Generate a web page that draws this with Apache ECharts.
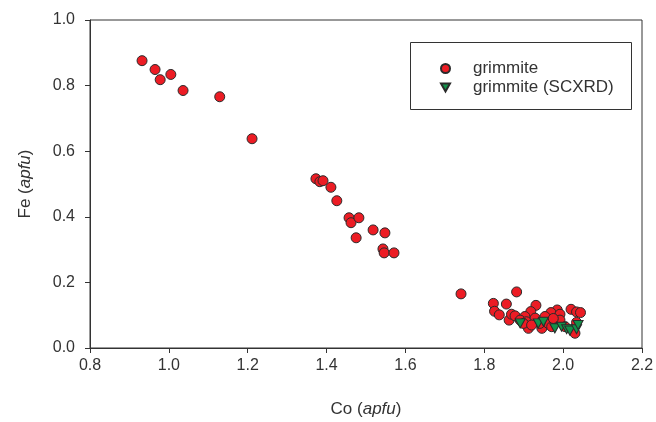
<!DOCTYPE html>
<html>
<head>
<meta charset="utf-8">
<script src="https://cdn.jsdelivr.net/npm/echarts@6/dist/echarts.min.js"></script>
<style>
	html, body { margin:0; padding:0; background:#fff; }
	#main { width:656px; height:422px; }
</style>
</head>
<body>
<div id="main"></div>
<script>
	// grimmite, microprobe (Co, Fe apfu)
	var grimCo = [0.932,0.965,0.978,1.005,1.036,1.129,1.211,1.373,1.383,1.391,1.411,1.426,1.457,1.462,1.482,1.475,1.518,1.548,1.543,1.546,1.571,1.741,
		1.882,1.823,1.856,1.826,1.838,1.931,2.020,2.034,2.044,1.985,1.969,1.992,1.863,1.869,1.878,1.912,1.946,2.034,2.030,
		1.918,1.903,1.891,1.929,1.954,1.962,1.992,2.005,1.941,1.907,1.971,1.899,1.920,1.975];
	var grimFe = [0.876,0.849,0.818,0.834,0.785,0.766,0.638,0.516,0.507,0.510,0.490,0.449,0.397,0.382,0.397,0.336,0.360,0.351,0.302,0.290,0.290,0.165,
		0.171,0.136,0.134,0.112,0.101,0.130,0.118,0.110,0.108,0.116,0.108,0.103,0.085,0.103,0.098,0.060,0.060,0.078,0.045,
		0.111,0.096,0.085,0.091,0.096,0.075,0.085,0.065,0.075,0.080,0.065,0.075,0.070,0.090];

	// grimmite, single crystal XRD
	var scxrdCo = [1.891,1.937,1.950,1.979,1.996,2.009,2.017,2.034,2.038];
	var scxrdFe = [0.075,0.075,0.080,0.060,0.065,0.057,0.053,0.057,0.070];

	var xTicks = ['0.8','1.0','1.2','1.4','1.6','1.8','2.0','2.2'];
	var yTicks = ['0.0','0.2','0.4','0.6','0.8','1.0'];

	var seriesNames = ['grimmite', 'grimmite (SCXRD)'];

	var pairs = function(xs, ys){
		var out = [];
		for(var i = 0, j = xs.length; i < j; i++){
			out.push([xs[i], ys[i]]);
		}
		return out;
	}

	var axisColor = '#333';
	var font = 'Liberation Sans, Arial, sans-serif';
	var downTri = 'path://M0,0 L10,0 L5,9 Z';

	var chart = echarts.init(document.getElementById('main'));
	chart.setOption({
		animation: false,
		textStyle: { fontFamily: font },
		grid: {
			left: 90, right: 14, top: 20, bottom: 74,
			outerBoundsMode: 'none',
			containLabel: false,
			show: true, borderColor: axisColor, borderWidth: 1
		},
		xAxis: {
			type: 'value',
			min: 0.8, max: 2.2, interval: 0.2,
			splitLine: { show: false },
			axisLine: { lineStyle: { color: axisColor } },
			axisTick: { inside: false, length: 5, lineStyle: { color: axisColor } },
			axisLabel: { color: axisColor, fontSize: 16, margin: 10,
				formatter: function(v){ return xTicks[Math.round((v - 0.8) / 0.2)]; } },
			name: '{n|Co (}{i|apfu}{n|)}',
			nameLocation: 'middle',
			nameGap: 53,
			nameTextStyle: {
				rich: {
					n: { fontSize: 17, color: axisColor, fontFamily: font },
					i: { fontSize: 17, color: axisColor, fontStyle: 'italic', fontFamily: font }
				}
			}
		},
		yAxis: {
			type: 'value',
			min: 0, max: 1, interval: 0.2,
			splitLine: { show: false },
			axisLine: { show: true, lineStyle: { color: axisColor } },
			axisTick: { show: true, inside: false, length: 5, lineStyle: { color: axisColor } },
			axisLabel: { color: axisColor, fontSize: 16, margin: 15,
				formatter: function(v){ return yTicks[Math.round(v / 0.2)]; } },
			name: '{n|Fe (}{i|apfu}{n|)}',
			nameLocation: 'middle',
			nameGap: 56,
			nameTextStyle: {
				rich: {
					n: { fontSize: 17, color: axisColor, fontFamily: font },
					i: { fontSize: 17, color: axisColor, fontStyle: 'italic', fontFamily: font }
				}
			}
		},
		legend: {
			orient: 'vertical',
			left: 440, top: 60,
			padding: 0,
			itemWidth: 9, itemHeight: 9, itemGap: 2,
			data: [{ name: seriesNames[0], icon: 'circle' }, { name: seriesNames[1], icon: downTri }],
			textStyle: { fontSize: 17, color: axisColor, padding: [0, 0, 0, 18] }
		},
		graphic: [{
			type: 'rect',
			shape: { x: 410.5, y: 42.5, width: 221, height: 67 },
			style: { fill: 'none', stroke: axisColor, lineWidth: 1 },
			z: 1
		}],
		series: [{
			name: seriesNames[0],
			type: 'scatter',
			symbol: 'circle',
			symbolSize: 10,
			itemStyle: { color: '#ec1c24', borderColor: '#2a2a2a', borderWidth: 1, opacity: 1 },
			data: pairs(grimCo, grimFe)
		},{
			name: seriesNames[1],
			type: 'scatter',
			symbol: downTri,
			symbolSize: [10, 9],
			itemStyle: { color: '#12924a', borderColor: '#2a2a2a', borderWidth: 1, opacity: 1 },
			data: pairs(scxrdCo, scxrdFe)
		}]
	});
</script>
</body>
</html>
